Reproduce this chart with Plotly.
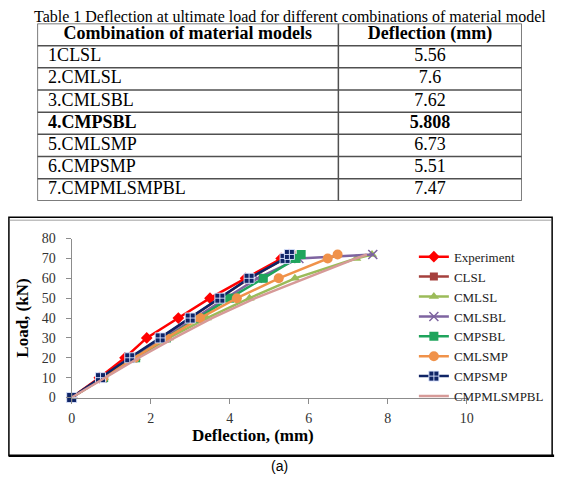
import plotly.graph_objects as go

W, H = 566, 484

# ---------------- data ----------------
table_title = "Table 1 Deflection at ultimate load for different combinations of material model"
table_header = ["Combination of material models", "Deflection (mm)"]
table_models = ["1CLSL", "2.CMLSL", "3.CMLSBL", "4.CMPSBL", "5.CMLSMP", "6.CMPSMP", "7.CMPMLSMPBL"]
table_deflections = ["5.56", "7.6", "7.62", "5.808", "6.73", "5.51", "7.47"]
bold_row = 3

loads = [0, 10, 20, 30, 40, 50, 60, 70, 72]
experiment_x = [0, 0.70, 1.35, 1.90, 2.70, 3.50, 4.40, 5.30, 5.50]
clsl_x = [0, 0.75, 1.50, 2.25, 3.00, 3.75, 4.50, 5.40, 5.56]
cmlsl_x = [0, 0.81, 1.62, 2.46, 3.42, 4.50, 5.65, 7.20, 7.60]
cmlsbl_x = [0, 0.78, 1.55, 2.33, 3.10, 3.90, 4.70, 5.75, 7.62]
cmpsbl_x = [0, 0.81, 1.62, 2.40, 3.20, 4.00, 4.85, 5.68, 5.808]
cmlsmp_x = [0, 0.80, 1.60, 2.40, 3.25, 4.18, 5.24, 6.48, 6.73]
cmpsmp_x = [0, 0.73, 1.47, 2.24, 3.00, 3.75, 4.49, 5.40, 5.51]
cmpmlsmpbl_x = [0, 0.85, 1.70, 2.60, 3.55, 4.65, 5.90, 7.20, 7.47]

x_ticks = [0, 2, 4, 6, 8, 10]
y_ticks = [0, 10, 20, 30, 40, 50, 60, 70, 80]

serif = "Liberation Serif, Times New Roman, serif"


def px_x(p):
    return p / W


def px_y(p):
    return 1 - p / H


fig = go.Figure()

# ---------------- table (own hidden axes: x 0..1 across, y = row index) ----------------
col_split = 307 / 494          # fraction of table width for first column
n_rows = len(table_models) + 1  # header + data rows
left_pad = 11 / 494

col1 = [f"<b>{m}</b>" if i == bold_row else m for i, m in enumerate(table_models)]
col2 = [f"<b>{d}</b>" if i == bold_row else d for i, d in enumerate(table_deflections)]
row_centres = [i + 1.5 for i in range(len(table_models))]

fig.add_trace(go.Scatter(
    x=[col_split / 2, (col_split + 1) / 2], y=[0.5, 0.5],
    text=[f"<b>{h}</b>" for h in table_header], mode="text", textposition="middle center",
    textfont=dict(family=serif, size=18, color="black"),
    xaxis="x2", yaxis="y2", showlegend=False, hoverinfo="skip"))
fig.add_trace(go.Scatter(
    x=[left_pad] * len(col1), y=row_centres, text=col1, mode="text",
    textposition="middle right", textfont=dict(family=serif, size=18, color="black"),
    xaxis="x2", yaxis="y2", showlegend=False, hoverinfo="skip"))
fig.add_trace(go.Scatter(
    x=[(col_split + 1) / 2] * len(col2), y=row_centres, text=col2, mode="text",
    textposition="middle center", textfont=dict(family=serif, size=18, color="black"),
    xaxis="x2", yaxis="y2", showlegend=False, hoverinfo="skip"))

shapes = []
grid_line = dict(color="#505050", width=1.5)
for r in range(n_rows + 1):
    shapes.append(dict(type="line", xref="x2", yref="y2", x0=0, x1=1, y0=r, y1=r, line=grid_line))
for c in [0, col_split, 1]:
    shapes.append(dict(type="line", xref="x2", yref="y2", x0=c, x1=c, y0=0, y1=n_rows, line=grid_line))

# ---------------- chart ----------------
series = [
    ("Experiment", experiment_x, "#FF0000", "diamond", 9, "lines+markers"),
    ("CLSL", clsl_x, "#A5403D", "square", 8, "lines+markers"),
    ("CMLSL", cmlsl_x, "#9BBB59", "triangle-up", 9, "lines+markers"),
    ("CMLSBL", cmlsbl_x, "#7E64A0", "x-thin", 9, "lines+markers"),
    ("CMPSBL", cmpsbl_x, "#1FA45C", "square", 9, "lines+markers"),
    ("CMLSMP", cmlsmp_x, "#F0924A", "circle", 10, "lines+markers"),
    ("CMPSMP", cmpsmp_x, "#0F2466", "square-cross", 10, "lines+markers"),
    ("CMPMLSMPBL", cmpmlsmpbl_x, "#D69A98", "circle", 1, "lines"),
]
for name, xs, color, sym, size, mode in series:
    mk = dict(symbol=sym, size=size, color=color)
    if sym == "x-thin":
        mk["line"] = dict(color=color, width=1.5)
    elif sym == "square-cross":
        mk["line"] = dict(color="rgba(220,230,255,0.9)", width=1)
    else:
        mk["line"] = dict(width=0)
    fig.add_trace(go.Scatter(
        x=xs, y=loads, name=name, mode=mode,
        line=dict(color=color, width=2.5),
        marker=mk, cliponaxis=False, xaxis="x", yaxis="y",
    ))

axis_common = dict(
    showgrid=False, zeroline=False, showline=True, linecolor="#8C8C8C", linewidth=1,
    ticks="outside", ticklen=5, tickcolor="#8C8C8C", tickwidth=1,
    tickfont=dict(family=serif, size=14, color="#333333"),
)
shapes += [
    dict(type="rect", xref="paper", yref="paper", x0=px_x(5), x1=px_x(559),
         y0=px_y(463), y1=px_y(217), line=dict(color="black", width=1.5)),
    dict(type="line", xref="paper", yref="paper", x0=px_x(6), x1=px_x(558),
         y0=px_y(220), y1=px_y(220), line=dict(color="#A0A0A0", width=1)),
    dict(type="line", xref="paper", yref="paper", x0=px_x(5), x1=px_x(561),
         y0=px_y(463), y1=px_y(463), line=dict(color="black", width=2.5)),
]

fig.update_layout(
    width=W, height=H,
    margin=dict(l=0, r=0, t=0, b=0),
    paper_bgcolor="white", plot_bgcolor="white",
    xaxis=dict(domain=[px_x(69), px_x(472)], range=[0, 10], tickvals=x_ticks,
               anchor="y", ticklabelstandoff=3, **axis_common),
    yaxis=dict(domain=[px_y(403), px_y(239)], range=[0, 80], tickvals=y_ticks,
               anchor="x", ticklabelstandoff=7, **axis_common),
    xaxis2=dict(domain=[px_x(34), px_x(528)], range=[0, 1], visible=False, anchor="y2"),
    yaxis2=dict(domain=[px_y(200), px_y(17)], range=[n_rows, 0], visible=False, anchor="x2"),
    legend=dict(x=px_x(418), y=px_y(330), xanchor="left", yanchor="middle",
                font=dict(family=serif, size=13, color="#222222"),
                bgcolor="rgba(0,0,0,0)", itemwidth=30, tracegroupgap=0),
    showlegend=True,
    annotations=[
        dict(text=table_title, x=px_x(292), y=px_y(10), xref="paper", yref="paper",
             xanchor="center", yanchor="middle",
             showarrow=False, font=dict(family=serif, size=16, color="black")),
        dict(text="<b>Deflection, (mm)</b>", x=px_x(254), y=px_y(442), xref="paper", yref="paper",
             xanchor="center", yanchor="middle",
             showarrow=False, font=dict(family=serif, size=17, color="black")),
        dict(text="<b>Load, (kN)</b>", x=px_x(18), y=px_y(321), xref="paper", yref="paper",
             xanchor="center", yanchor="middle",
             textangle=-90, showarrow=False, font=dict(family=serif, size=17, color="black")),
        dict(text="(a)", x=px_x(281), y=px_y(474), xref="paper", yref="paper",
             xanchor="center", yanchor="middle",
             showarrow=False, font=dict(family="Liberation Sans, Arial, sans-serif", size=14, color="black")),
    ],
    shapes=shapes,
)

fig.write_html("out.html")
